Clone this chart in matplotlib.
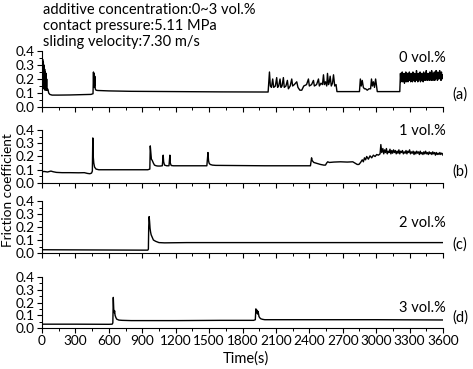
import numpy as np
import matplotlib.pyplot as plt
from matplotlib.ticker import MultipleLocator

plt.rcParams['font.family'] = ['Lato', 'DejaVu Sans']

# 0 vol.%
t_a = [0, 3, 6, 9, 12, 15, 18, 21, 24, 27, 30, 33, 36, 39, 42, 45, 50, 55, 60, 70, 90,
       150, 250, 350, 440, 458, 462, 465, 468, 471, 474, 478, 485, 500, 600, 800, 1200,
       1600, 2030,
       2042, 2050, 2060, 2071, 2080, 2095, 2107, 2115, 2125, 2137, 2145, 2155, 2167, 2175,
       2190, 2203, 2212, 2228, 2242, 2250, 2265, 2287, 2298, 2315, 2332, 2350, 2375, 2392,
       2400, 2420, 2437, 2445, 2465, 2482, 2490, 2505, 2518, 2527, 2535, 2545, 2556, 2563,
       2572, 2580, 2587, 2597, 2608, 2617, 2628, 2640, 2648,
       2700, 2800, 2850, 2858, 2866, 2875, 2885, 2895, 2905, 2920, 2935, 2950, 2958, 2966,
       2975, 2985, 2995, 3003, 3010, 3100, 3212,
       3218, 3222, 3226, 3230, 3234, 3238, 3242, 3246, 3250, 3254, 3258, 3262, 3266, 3270,
       3274, 3278, 3282, 3286, 3290, 3294, 3298, 3302, 3306, 3310, 3314, 3318, 3322, 3326,
       3330, 3334, 3338, 3342, 3346, 3350, 3354, 3358, 3362, 3366, 3370, 3374, 3378, 3382,
       3386, 3390, 3394, 3398, 3402, 3406, 3410, 3414, 3418, 3422, 3426, 3430, 3434, 3438,
       3442, 3446, 3450, 3454, 3458, 3462, 3466, 3470, 3474, 3478, 3482, 3486, 3490, 3494,
       3498, 3502, 3506, 3510, 3514, 3518, 3522, 3526, 3530, 3534, 3538, 3542, 3546, 3550,
       3554, 3558, 3562, 3566, 3570, 3574, 3578, 3582, 3586, 3590, 3594, 3600]
v_a = [0.36, 0.2, 0.34, 0.15, 0.32, 0.13, 0.3, 0.14, 0.27, 0.12, 0.25, 0.13, 0.24, 0.12,
       0.2, 0.12, 0.13, 0.12, 0.1, 0.09, 0.085,
       0.085, 0.086, 0.088, 0.09, 0.095, 0.25, 0.14, 0.24, 0.15, 0.22, 0.13, 0.12, 0.118,
       0.115, 0.112, 0.11, 0.108, 0.107,
       0.25, 0.15, 0.14, 0.2, 0.14, 0.15, 0.21, 0.14, 0.15, 0.2, 0.14, 0.15, 0.21, 0.14,
       0.15, 0.19, 0.13, 0.15, 0.2, 0.15, 0.16, 0.18, 0.14, 0.12, 0.12, 0.15, 0.16, 0.2,
       0.15, 0.16, 0.19, 0.15, 0.16, 0.2, 0.15, 0.17, 0.16, 0.23, 0.16, 0.18, 0.15, 0.24,
       0.16, 0.18, 0.22, 0.15, 0.17, 0.23, 0.15, 0.16, 0.11,
       0.11, 0.11, 0.11, 0.2, 0.15, 0.19, 0.14, 0.13, 0.13, 0.12, 0.13, 0.13, 0.2, 0.15,
       0.18, 0.14, 0.2, 0.15, 0.11, 0.11, 0.11,
       0.24, 0.18, 0.23, 0.19, 0.25, 0.18, 0.22, 0.2, 0.24, 0.17, 0.23, 0.19, 0.25, 0.18,
       0.22, 0.19, 0.24, 0.18, 0.23, 0.2, 0.25, 0.19, 0.22, 0.18, 0.24, 0.2, 0.23, 0.18,
       0.25, 0.19, 0.22, 0.2, 0.24, 0.18, 0.23, 0.19, 0.26, 0.2, 0.22, 0.18, 0.24, 0.19,
       0.23, 0.2, 0.25, 0.18, 0.22, 0.19, 0.24, 0.2, 0.23, 0.18, 0.25, 0.19, 0.22, 0.2,
       0.24, 0.19, 0.26, 0.2, 0.23, 0.19, 0.24, 0.2, 0.22, 0.19, 0.25, 0.2, 0.23, 0.19,
       0.26, 0.2, 0.24, 0.19, 0.22, 0.2, 0.25, 0.19, 0.23, 0.2, 0.26, 0.21, 0.24, 0.19,
       0.25, 0.2, 0.23, 0.21, 0.26, 0.2, 0.24, 0.19, 0.25, 0.2, 0.23, 0.22]

# 1 vol.%
t_b = [0, 20, 50, 80, 100, 130, 180, 250, 330, 380, 410, 430, 445, 452, 456, 460, 465,
       472, 485, 510, 600, 800, 950, 968, 972, 976, 982, 990, 1000, 1010, 1025, 1040,
       1060, 1080, 1088, 1092, 1100, 1120, 1140, 1148, 1152, 1160, 1180, 1250, 1400,
       1480, 1490, 1495, 1500, 1510, 1530, 1560, 1700, 2000, 2200, 2410, 2420, 2425,
       2430, 2440, 2460, 2480, 2500, 2530, 2545, 2555, 2565, 2580, 2620, 2680, 2740,
       2790, 2810, 2830, 2845, 2860, 2875, 2885, 2895, 2905, 2915, 2930, 2945, 2960,
       2975, 2990, 3005, 3020, 3035, 3042, 3050, 3060,
       3068, 3076, 3084, 3092, 3100, 3108, 3116, 3124, 3132, 3140, 3148, 3156, 3164,
       3172, 3180, 3188, 3196, 3204, 3212, 3220, 3228, 3236, 3244, 3252, 3260, 3268,
       3276, 3284, 3292, 3300, 3308, 3316, 3324, 3332, 3340, 3348, 3356, 3364, 3372,
       3380, 3388, 3396, 3404, 3412, 3420, 3428, 3436, 3444, 3452, 3460, 3468, 3476,
       3484, 3492, 3500, 3508, 3516, 3524, 3532, 3540, 3548, 3556, 3564, 3572, 3580,
       3588, 3596, 3600]
v_b = [0.085, 0.087, 0.083, 0.09, 0.085, 0.08, 0.078, 0.078, 0.077, 0.078, 0.072,
       0.07, 0.075, 0.09, 0.34, 0.2, 0.15, 0.12, 0.105, 0.1, 0.1, 0.1, 0.1, 0.105,
       0.28, 0.24, 0.18, 0.17, 0.15, 0.135, 0.13, 0.128, 0.128, 0.13, 0.21, 0.16,
       0.135, 0.13, 0.13, 0.21, 0.15, 0.132, 0.13, 0.13, 0.13, 0.13, 0.23, 0.17,
       0.15, 0.14, 0.135, 0.133, 0.132, 0.13, 0.13, 0.13, 0.19, 0.17, 0.165, 0.155,
       0.15, 0.145, 0.14, 0.135, 0.135, 0.15, 0.16, 0.155, 0.158, 0.16, 0.158, 0.16,
       0.15, 0.14, 0.14, 0.155, 0.175, 0.16, 0.19, 0.175, 0.2, 0.18, 0.205, 0.19,
       0.21, 0.2, 0.215, 0.21, 0.22, 0.29, 0.23, 0.26,
       0.22, 0.25, 0.23, 0.26, 0.22, 0.24, 0.23, 0.255, 0.22, 0.245, 0.225, 0.25,
       0.23, 0.245, 0.22, 0.24, 0.225, 0.25, 0.22, 0.24, 0.23, 0.245, 0.22, 0.235,
       0.225, 0.245, 0.22, 0.24, 0.23, 0.25, 0.22, 0.235, 0.225, 0.24, 0.215, 0.235,
       0.22, 0.24, 0.225, 0.235, 0.215, 0.24, 0.22, 0.23, 0.215, 0.235, 0.22, 0.24,
       0.22, 0.23, 0.215, 0.235, 0.22, 0.23, 0.215, 0.235, 0.22, 0.23, 0.21, 0.23,
       0.215, 0.225, 0.215, 0.23, 0.215, 0.225, 0.22, 0.21]

# 2 vol.%
t_c = [0, 300, 600, 900, 950, 955, 958, 962, 966, 970, 975, 980, 990, 1000, 1020,
       1050, 1100, 1300, 2000, 3000, 3600]
v_c = [0.025, 0.024, 0.023, 0.022, 0.022, 0.03, 0.2, 0.28, 0.24, 0.19, 0.16, 0.14,
       0.12, 0.1, 0.09, 0.08, 0.078, 0.08, 0.08, 0.08, 0.08]

# 3 vol.%
t_d = [0, 300, 600, 630, 636, 640, 644, 648, 652, 656, 662, 670, 690, 720, 800, 1200,
       1600, 1900, 1915, 1920, 1925, 1930, 1935, 1940, 1948, 1955, 1965, 1980, 2000,
       2200, 2600, 3000, 3600]
v_d = [0.03, 0.03, 0.029, 0.03, 0.04, 0.24, 0.15, 0.12, 0.135, 0.1, 0.085, 0.07,
       0.062, 0.06, 0.058, 0.058, 0.06, 0.06, 0.065, 0.15, 0.12, 0.14, 0.11, 0.13,
       0.09, 0.08, 0.072, 0.068, 0.065, 0.065, 0.065, 0.065, 0.063]

series = [(t_a, v_a), (t_b, v_b), (t_c, v_c), (t_d, v_d)]
names = ['0 vol.%', '1 vol.%', '2 vol.%', '3 vol.%']
tags = ['(a)', '(b)', '(c)', '(d)']

W, H = 473, 369
fig = plt.figure(figsize=(W / 100, H / 100), dpi=100)

# panel pixel boxes: top, bottom
boxes = [(51, 107), (130, 183), (201, 253), (277, 328)]
name_y = [58, 131, 223, 308]
tag_y = [95, 172, 245, 318]
x0, x1 = 42, 443

for i, ((tt, vv), (top, bot)) in enumerate(zip(series, boxes)):
    ax = fig.add_axes([x0 / W, 1 - bot / H, (x1 - x0) / W, (bot - top) / H])
    ax.plot(tt, vv, color='black', lw=1.0)
    ax.set_xlim(0, 3600)
    ax.set_ylim(0, 0.4)
    ax.spines['top'].set_visible(False)
    ax.spines['right'].set_visible(False)
    ax.spines['left'].set_linewidth(0.8)
    ax.spines['bottom'].set_linewidth(0.8)
    ax.xaxis.set_major_locator(MultipleLocator(300))
    ax.xaxis.set_minor_locator(MultipleLocator(150))
    ax.yaxis.set_minor_locator(MultipleLocator(0.05))
    ax.tick_params(which='major', direction='out', length=3.5, width=0.8, labelsize=9.8, pad=1.5)
    ax.tick_params(which='minor', direction='out', length=2, width=0.7)
    ax.set_yticks([0, 0.1, 0.2, 0.3, 0.4])
    ax.set_yticklabels(['0.0', '0.1', '0.2', '0.3', '0.4'])
    if i < 3:
        ax.set_xticklabels([])
    else:
        ax.set_xticks(np.arange(0, 3601, 300))
        ax.set_xticklabels([str(v) for v in range(0, 3601, 300)])
    fig.text(446 / W, 1 - name_y[i] / H, names[i], ha='right', va='center', fontsize=10.5)
    fig.text(452 / W, 1 - tag_y[i] / H, tags[i], ha='left', va='center', fontsize=10.5)

header = ['additive concentration:0~3 vol.%', 'contact pressure:5.11 MPa',
          'sliding velocity:7.30 m/s']
for line, y in zip(header, [10, 26, 42]):
    fig.text(43 / W, 1 - y / H, line, ha='left', va='center', fontsize=10.5)

fig.text(246 / W, 1 - 359 / H, 'Time(s)', ha='center', va='center', fontsize=10.5)
fig.text(8 / W, 1 - 190 / H, 'Friction coefficient', ha='center', va='center',
         rotation=90, fontsize=9.8)

fig.savefig('out.png', dpi=100)
